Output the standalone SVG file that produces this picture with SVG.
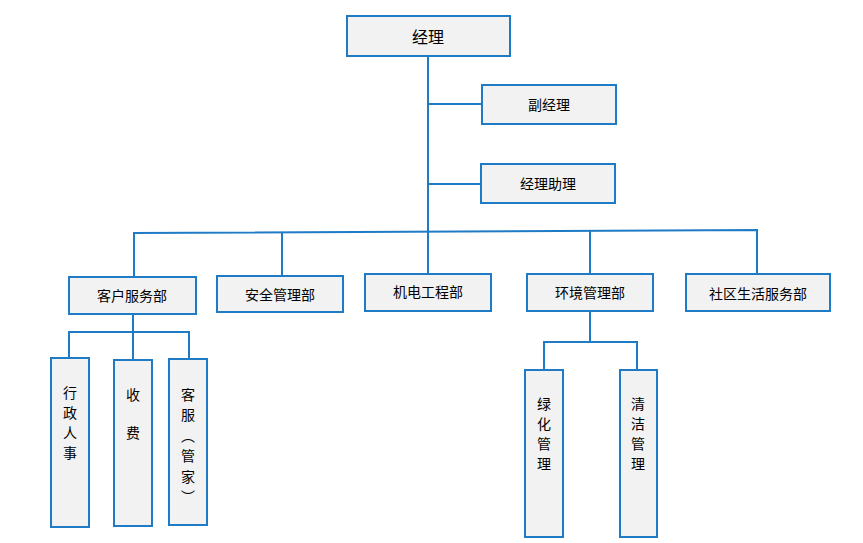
<svg xmlns="http://www.w3.org/2000/svg" width="863" height="543" viewBox="0 0 863 543">
<style>
.box{fill:#f2f2f2;stroke:#1f7bc6;stroke-width:2}
.ln{fill:none;stroke:#1f7bc6;stroke-width:2}
text{font-family:"Noto Sans CJK SC","Microsoft YaHei",sans-serif;font-size:14px;fill:#000;text-anchor:middle;dominant-baseline:central}
.v{writing-mode:vertical-rl}
</style>
<rect width="863" height="543" fill="#fff"/>
<g id="connectors">
<path class="ln" d="M428 56V233"/>
<path class="ln" d="M428 104H482"/>
<path class="ln" d="M428 184H481"/>
<path class="ln" d="M134 277V233L757 230V274"/>
<path class="ln" d="M282 232V276"/>
<path class="ln" d="M590 231V274"/>
<path class="ln" d="M428 232V274"/>
<path class="ln" d="M133 314V360"/>
<path class="ln" d="M69 358V332H189V359"/>
<path class="ln" d="M590 311V342"/>
<path class="ln" d="M544 370V342H637V370"/>
</g>
<g id="n-manager"><rect class="box" x="347" y="16" width="163" height="40"/><text x="428" y="36" style="font-size:16px">经理</text></g>
<g id="n-deputy"><rect class="box" x="482" y="85" width="134" height="39"/><text x="549" y="104">副经理</text></g>
<g id="n-assistant"><rect class="box" x="481" y="164" width="134" height="39"/><text x="548" y="183">经理助理</text></g>
<g id="n-customer"><rect class="box" x="69" y="277" width="127" height="37"/><text x="132" y="295">客户服务部</text></g>
<g id="n-security"><rect class="box" x="217" y="276" width="126" height="36"/><text x="280" y="294">安全管理部</text></g>
<g id="n-mech"><rect class="box" x="365" y="274" width="126" height="37"/><text x="428" y="291">机电工程部</text></g>
<g id="n-env"><rect class="box" x="527" y="274" width="126" height="37"/><text x="590" y="292">环境管理部</text></g>
<g id="n-community"><rect class="box" x="686" y="274" width="144" height="37"/><text x="758" y="293">社区生活服务部</text></g>
<g id="n-admin"><rect class="box" x="51" y="358" width="38" height="169"/><text class="v" x="70" y="426" style="letter-spacing:6px">行政人事</text></g>
<g id="n-fee"><rect class="box" x="114" y="360" width="38" height="166"/><text class="v" x="133" y="426" style="letter-spacing:24px">收费</text></g>
<g id="n-service"><rect class="box" x="169" y="359" width="38" height="166"/><text class="v" x="188" y="449" style="letter-spacing:6.5px">客服（管家）</text></g>
<g id="n-green"><rect class="box" x="525" y="370" width="38" height="167"/><text class="v" x="544" y="437" style="letter-spacing:6px">绿化管理</text></g>
<g id="n-clean"><rect class="box" x="620" y="370" width="37" height="167"/><text class="v" x="638" y="437" style="letter-spacing:6px">清洁管理</text></g>
</svg>
